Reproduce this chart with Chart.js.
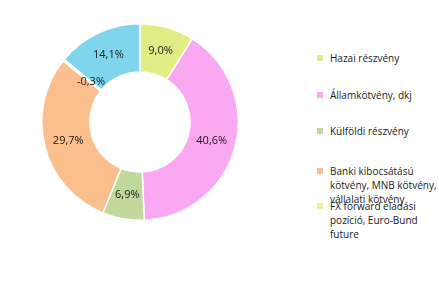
<!DOCTYPE html>
<html>
<head>
<meta charset="utf-8">
<script src="https://cdn.jsdelivr.net/npm/chart.js@4/dist/chart.umd.min.js"></script>
<style>
  html, body { margin: 0; padding: 0; background: #fff; }
  body { width: 439px; height: 298px; position: relative; overflow: hidden; font-family: "Open Sans", sans-serif; }
  #wrap { position: absolute; left: 41px; top: 23px; width: 198px; height: 198px; }
  .leg { position: absolute; left: 317px; width: 120px; font-size: 10px; line-height: 14px; color: #1a1a1a; }
  .leg .sw { position: absolute; left: 0; top: 4px; width: 6px; height: 6px; }
  .leg .tx { margin-left: 13px; width: 108px; }
</style>
</head>
<body>
<div id="wrap"><canvas id="c"></canvas></div>
<div id="legend"></div>
<script>
const categories = [
  "Hazai részvény",
  "Államkötvény, dkj",
  "Külföldi részvény",
  "Banki kibocsátású kötvény, MNB kötvény, vállalati kötvény",
  "FX forward eladási pozíció, Euro-Bund future",
  "Egyéb"
];
const values = [9.0, 40.6, 6.9, 29.7, -0.3, 14.1];
const valueLabels = ["9,0%", "40,6%", "6,9%", "29,7%", "-0,3%", "14,1%"];
const legendCount = 5;

const colors = ["#e3ec84", "#f9a8f1", "#c0d89c", "#fbbf8e", "#e9f29a", "#7fd5ec"];
const legendTops = [51, 88, 124, 164, 199];

const labelPlugin = {
  id: 'sliceLabels',
  afterDatasetsDraw(chart) {
    const ctx = chart.ctx;
    const meta = chart.getDatasetMeta(0);
    ctx.save();
    ctx.font = '11px "Open Sans", sans-serif';
    ctx.fillStyle = '#1a1a1a';
    ctx.textAlign = 'center';
    ctx.textBaseline = 'middle';
    meta.data.forEach((arc, i) => {
      const p = arc.getProps(['x', 'y', 'startAngle', 'endAngle', 'innerRadius', 'outerRadius', 'circumference']);
      const mid = (p.startAngle + p.endAngle) / 2;
      // very thin slices get their label nearer the hole
      const f = p.circumference < 0.05 ? 0.27 : 0.5;
      const r = p.innerRadius + f * (p.outerRadius - p.innerRadius);
      ctx.fillText(valueLabels[i], p.x + Math.cos(mid) * r, p.y + Math.sin(mid) * r);
    });
    ctx.restore();
  }
};

new Chart(document.getElementById('c'), {
  type: 'doughnut',
  data: {
    labels: categories,
    datasets: [{
      data: values,
      backgroundColor: colors,
      borderColor: '#ffffff',
      borderWidth: 1.5
    }]
  },
  options: {
    responsive: true,
    maintainAspectRatio: false,
    animation: false,
    cutout: '51%',
    layout: { padding: 0 },
    plugins: {
      legend: { display: false },
      tooltip: { enabled: false }
    }
  },
  plugins: [labelPlugin]
});

const leg = document.getElementById('legend');
for (let i = 0; i < legendCount; i++) {
  const d = document.createElement('div');
  d.className = 'leg';
  d.style.top = legendTops[i] + 'px';
  const sw = document.createElement('div');
  sw.className = 'sw';
  sw.style.background = colors[i];
  const tx = document.createElement('div');
  tx.className = 'tx';
  tx.textContent = categories[i];
  d.appendChild(sw);
  d.appendChild(tx);
  leg.appendChild(d);
}
</script>
</body>
</html>
